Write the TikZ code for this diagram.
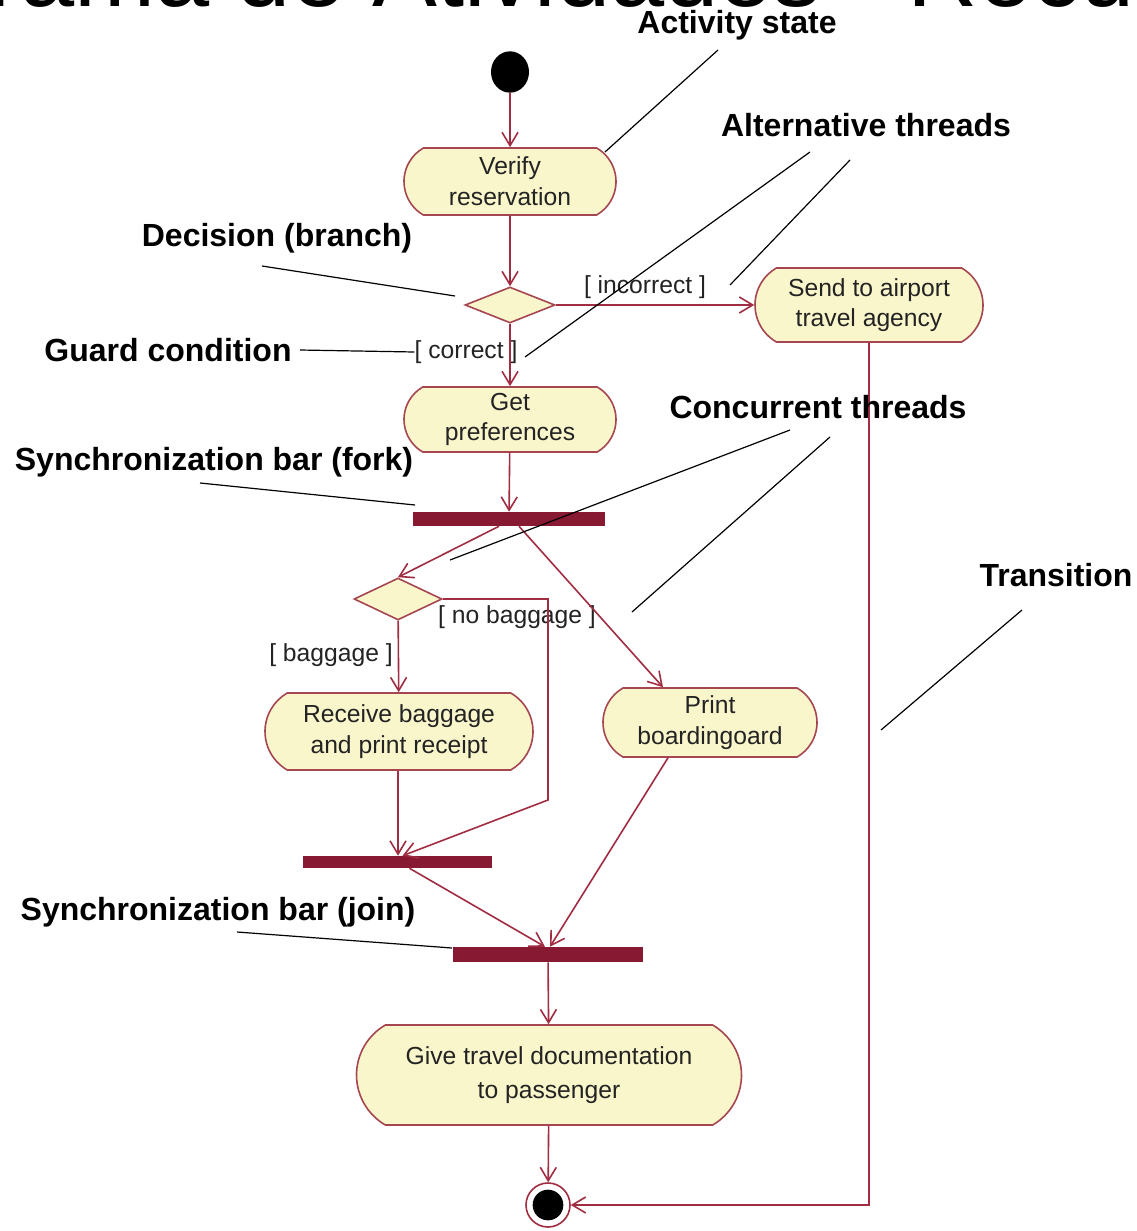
\documentclass[tikz,border=0pt]{standalone}
\usepackage{fontspec}
\setmainfont{Liberation Sans}
\usetikzlibrary{shapes.misc,shapes.geometric,arrows.meta,calc}
\definecolor{boxfill}{RGB}{250,246,204}
\definecolor{boxline}{RGB}{165,70,80}
\definecolor{conn}{RGB}{160,45,65}
\definecolor{barcol}{RGB}{135,25,50}
\definecolor{txt}{RGB}{35,35,35}
\begin{document}
\begin{tikzpicture}[x=0.75pt,y=-0.75pt,
  act/.style={rounded rectangle, rounded rectangle arc length=120, draw=boxline, fill=boxfill,
    line width=1.2pt, inner sep=0pt, align=center, text=txt,
    font=\fontsize{18.5}{23}\selectfont},
  dec/.style={diamond, draw=boxline, fill=boxfill, line width=1.2pt, inner sep=0pt},
  syncbar/.style={rectangle, fill=barcol, draw=none, inner sep=0pt},
  flow/.style={draw=conn, line width=1.2pt, -{Straight Barb[length=10pt,width=12pt]}},
  guard/.style={inner sep=0pt, text=txt, font=\fontsize{18.5}{23}\selectfont},
  note/.style={inner sep=0pt, font=\bfseries\fontsize{24}{28}\selectfont},
  noteline/.style={draw=black, line width=0.9pt}
]
\useasboundingbox (0,0) rectangle (1136,1231);
\clip (0,0) rectangle (1136,1231);
\fill[white] (0,0) rectangle (1136,1231);

% title (cut at the top)
\node[anchor=base west, inner sep=0pt, font=\fontsize{73}{80}\selectfont] (title) at (-12,6.5) {rama de Atividades - Recu};

% nodes
\node[ellipse, fill=black, minimum width=28.5pt, minimum height=31pt, inner sep=0pt] (init) at (510,72) {};
\node[act, minimum width=159pt, minimum height=50.25pt] (verify) at (510,181.5) {Verify\\reservation};
\node[dec, minimum width=67.5pt, minimum height=27pt] (d1) at (510,305) {};
\node[act, minimum width=171pt, minimum height=55.5pt] (send) at (869,305) {Send to airport\\travel agency};
\node[act, minimum width=159pt, minimum height=48.75pt] (getpref) at (510,419.5) {Get\\preferences};
\node[syncbar, minimum width=144pt, minimum height=10.5pt] (fork) at (509,519) {};
\node[dec, minimum width=66pt, minimum height=31.5pt] (d2) at (398,599) {};
\node[act, minimum width=201pt, minimum height=57.75pt] (receive) at (399,731.5) {Receive baggage\\and print receipt};
\node[act, minimum width=160.5pt, minimum height=51.75pt] (print) at (710,722.5) {Print\\boardingoard};
\node[syncbar, minimum width=141.75pt, minimum height=9pt] (bar1) at (397.5,862) {};
\node[syncbar, minimum width=142.5pt, minimum height=11.25pt] (bar2) at (548,954.5) {};
\node[act, minimum width=288.75pt, minimum height=75pt, font=\fontsize{18.5}{25}\selectfont] (give) at (549,1075) {Give travel documentation\\to passenger};
\node[circle, draw=conn, line width=1.2pt, fill=white, minimum size=33pt, inner sep=0pt] (final) at (548,1205) {};
\node[circle, fill=black, minimum size=23pt, inner sep=0pt] (finalin) at (548,1205) {};

% guard labels
\node[guard] (gincorrect) at (645,287) {[ incorrect ]};
\node[guard] (gcorrect) at (466,352) {[ correct ]};
\node[guard] (gnobag) at (517,617) {[ no baggage ]};
\node[guard] (gbag) at (331,655) {[ baggage ]};

% connectors
\draw[flow] (init) -- (verify);
\draw[flow] (verify) -- (d1);
\draw[flow] (d1.east) -- (send.west);
\draw[flow] (d1) -- (getpref);
\draw[flow] (getpref) -- (fork);
\draw[flow] ($(fork.south)+(-10,0)$) -- (d2.north);
\draw[flow] ($(fork.south)+(10,0)$) -- ($(print.north)+(-47,0)$);
\draw[flow] (d2) -- (receive);
\coordinate (nbturn) at (548,800);
\draw[flow] (d2.east) -- (d2.east -| nbturn) -- (nbturn) -- ($(bar1.north)+(5,0)$);
\draw[flow] (receive.south -| d2) -- (d2 |- bar1.north);
\draw[flow] ($(bar1.south)+(12,0)$) -- ($(bar2.north)+(-3,0)$);
\draw[flow] ($(print.south)+(-42,0)$) -- ($(bar2.north)+(2,0)$);
\draw[flow] (bar2) -- (give);
\draw[flow] (give) -- (final);
\draw[flow] (send.south) -- (send.south |- final) -- (final.east);

% annotations
\node[note] (nactivity) at (737,25) {Activity state};
\node[note] (nalt) at (866,125) {Alternative threads};
\node[note] (ndecision) at (277,238) {Decision (branch)};
\node[note] (nguard) at (168,350) {Guard condition};
\node[note] (nfork) at (214,462) {Synchronization bar (fork)};
\node[note] (nconc) at (818,407) {Concurrent threads};
\node[note] (ntrans) at (1056,575) {Transition};
\node[note] (njoin) at (218,912) {Synchronization bar (join)};

\coordinate (a1s) at (718,50);   \coordinate (a1e) at (605,152);
\coordinate (b1s) at (810,152);  \coordinate (b1e) at (525,357);
\coordinate (b2s) at (850,160);  \coordinate (b2e) at (730,285);
\coordinate (c1s) at (262,266);  \coordinate (c1e) at (455,296);
\coordinate (e1s) at (200,483);  \coordinate (e1e) at (415,505);
\coordinate (f1s) at (790,430);  \coordinate (f1e) at (450,560);
\coordinate (f2s) at (830,437);  \coordinate (f2e) at (632,612);
\coordinate (t1s) at (1022,610); \coordinate (t1e) at (881,730);
\coordinate (j1s) at (237,932);  \coordinate (j1e) at (452,948);

\draw[noteline] (a1s) -- (a1e);
\draw[noteline] (b1s) -- (b1e);
\draw[noteline] (b2s) -- (b2e);
\draw[noteline] (c1s) -- (c1e);
\draw[noteline] (nguard.east) ++(8,0) -- (gcorrect.west);
\draw[noteline] (e1s) -- (e1e);
\draw[noteline] (f1s) -- (f1e);
\draw[noteline] (f2s) -- (f2e);
\draw[noteline] (t1s) -- (t1e);
\draw[noteline] (j1s) -- (j1e);
\end{tikzpicture}
\end{document}
